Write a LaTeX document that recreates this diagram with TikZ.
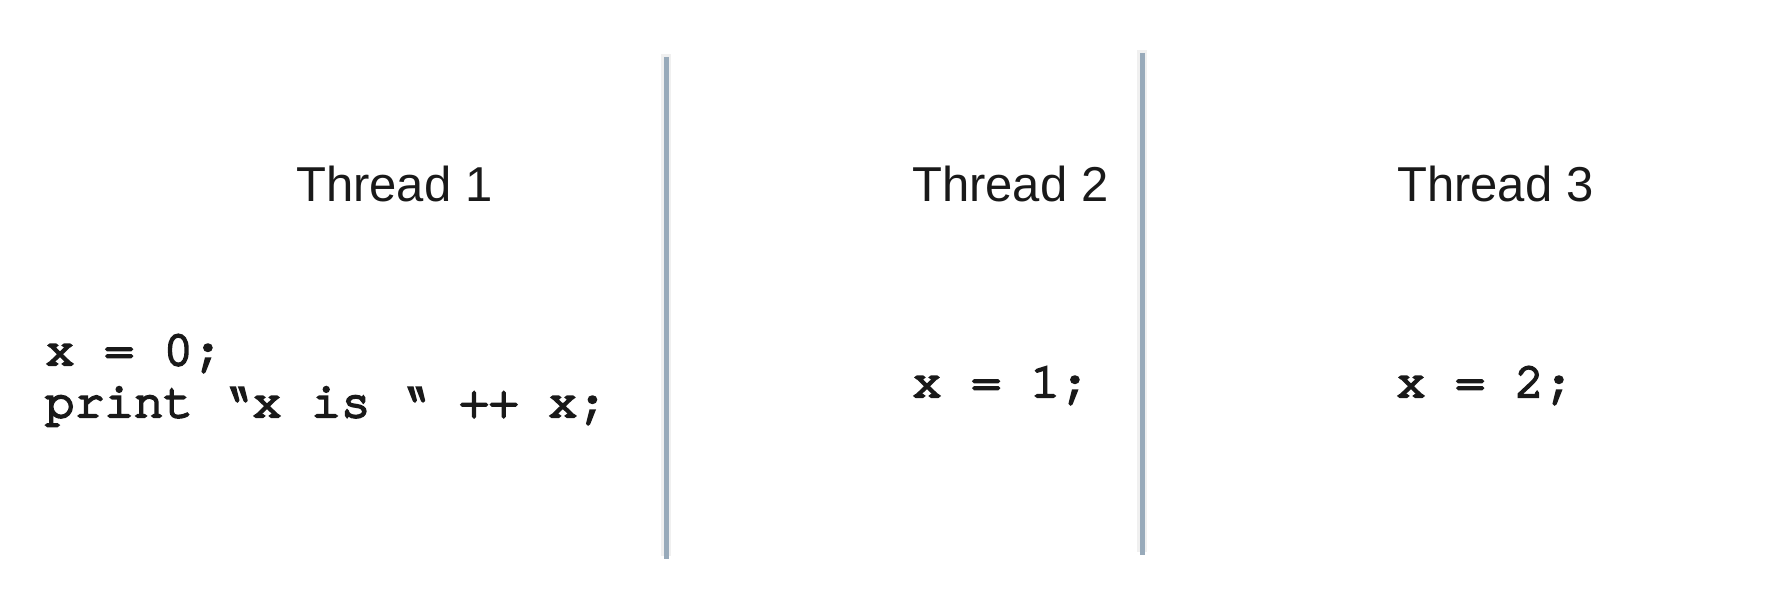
\documentclass[tikz,border=0pt]{standalone}
\usepackage{fontspec}
\setmainfont{Liberation Sans}
\newfontfamily\codefont[FakeBold=4.5]{TeX Gyre Cursor}
\definecolor{divider}{RGB}{152,170,186}
\begin{document}
\begin{tikzpicture}[x=1bp,y=-1bp,
  title/.style={anchor=base west,inner sep=0pt,font=\fontsize{49bp}{56bp}\selectfont,text=black!90},
  code/.style={anchor=base west,inner sep=0pt,font=\codefont\fontsize{49.3bp}{52bp}\selectfont,text=black!90},
  divline/.style={line width=5bp,draw=divider},
  divshadow/.style={line width=10bp,draw=black,opacity=0.06}]
\useasboundingbox (0,0) rectangle (1786,602);
% divider lines
\coordinate (l1t) at (666,57);
\coordinate (l1b) at (666,559);
\coordinate (l2t) at (1142,53);
\coordinate (l2b) at (1142,555);
\draw[divshadow] ([yshift=3bp]l1t) -- ([yshift=3bp]l1b);
\draw[divshadow] ([yshift=3bp]l2t) -- ([yshift=3bp]l2b);
\draw[divline] (l1t) -- (l1b);
\draw[divline] (l2t) -- (l2b);
% titles
\node[title] (t1) at (296,202) {Thread 1};
\node[title] (t2) at (912,202) {Thread 2};
\node[title] (t3) at (1397,202) {Thread 3};
% code
\node[code] (c1a) at (45,365) {x = 0;};
\node[code] (c1b) at (45,417) {print “x is “ ++ x;};
\node[code] (c2) at (912,397) {x = 1;};
\node[code] (c3) at (1396,397) {x = 2;};
\end{tikzpicture}
\end{document}
